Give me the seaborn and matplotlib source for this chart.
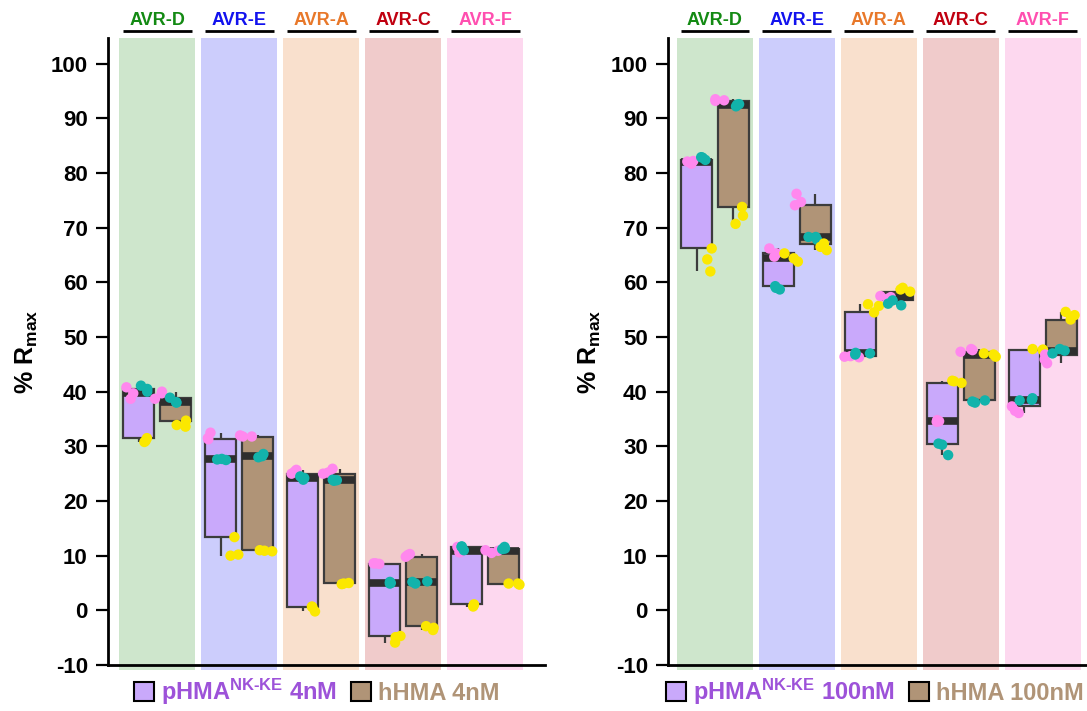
import numpy as np
import pandas as pd
import matplotlib
matplotlib.use('Agg')
import matplotlib.pyplot as plt
import matplotlib.transforms as mtransforms
from matplotlib.patches import Patch
import seaborn as sns

sns.set_theme(style='white')
plt.rcParams['font.family'] = ['Liberation Sans', 'DejaVu Sans']
plt.rcParams['font.weight'] = 'bold'
plt.rcParams['axes.labelweight'] = 'bold'
plt.rcParams['mathtext.fontset'] = 'custom'
plt.rcParams['mathtext.rm'] = 'Liberation Sans:bold'
plt.rcParams['mathtext.bf'] = 'Liberation Sans:bold'
plt.rcParams['mathtext.it'] = 'Liberation Sans:bold'

# categories
targets = ['AVR-D', 'AVR-E', 'AVR-A', 'AVR-C', 'AVR-F']
target_colors = ['#138a13', '#1212ee', '#e8782a', '#c00010', '#ff4fb0']
band_colors = ['#cee6cc', '#cccdfc', '#f9e0cd', '#f0cbcb', '#fdd8ef']
proteins = ['pHMA', 'hHMA']
box_colors = ['#c9a9fb', '#b09477']
reps = ['pink', 'teal', 'yellow']
rep_colors = ['#ff88ee', '#12b3ab', '#fbe800']

# 4 nM, three replicate readings per target and replicate colour
phma_4nm_pink = [[38.7, 39.7, 40.8], [31.5, 32.5, 31.3], [25.7, 25.4, 25.0], [8.6, 8.6, 8.5], [10.8, 11.6, 10.6]]
phma_4nm_teal = [[41.1, 40.0, 40.5], [27.5, 27.7, 27.6], [24.5, 23.9, 24.2], [5.0, 5.2, 4.9], [11.6, 11.7, 11.0]]
phma_4nm_yellow = [[31.0, 31.5, 30.8], [13.4, 10.2, 10.0], [0.7, 0.6, -0.2], [-4.9, -4.7, -5.9], [1.1, 0.7, 0.9]]
hhma_4nm_pink = [[39.7, 38.7, 40.0], [32.0, 31.8, 31.8], [25.9, 25.2, 25.0], [10.3, 9.8, 10.1], [10.5, 11.0, 10.9]]
hhma_4nm_teal = [[38.1, 38.9, 38.0], [28.6, 28.0, 28.2], [23.7, 23.8, 23.9], [5.2, 4.9, 5.3], [11.6, 11.2, 11.3]]
hhma_4nm_yellow = [[34.7, 33.9, 33.6], [10.8, 10.9, 11.0], [4.9, 5.0, 4.8], [-2.9, -3.2, -3.6], [4.9, 4.7, 4.9]]

# 100 nM
phma_100nm_pink = [[81.7, 82.1, 82.2], [65.3, 64.7, 66.2], [46.3, 46.5, 46.4], [34.5, 34.6, 34.8], [36.1, 36.5, 37.3]]
phma_100nm_teal = [[82.8, 82.9, 82.4], [58.7, 59.0, 59.3], [46.8, 47.1, 47.0], [30.3, 28.4, 30.5], [38.5, 38.8, 38.4]]
phma_100nm_yellow = [[66.2, 64.2, 62.0], [65.3, 63.8, 64.4], [54.5, 55.7, 56.0], [42.0, 41.9, 41.6], [47.8, 47.6, 47.7]]
hhma_100nm_pink = [[93.2, 93.5, 93.3], [76.2, 74.7, 74.1], [57.5, 57.0, 57.3], [47.3, 47.6, 47.8], [46.8, 45.9, 45.2]]
hhma_100nm_teal = [[92.2, 92.6, 92.5], [68.3, 67.8, 68.3], [56.7, 56.1, 55.8], [38.4, 38.0, 38.2], [47.8, 47.0, 47.5]]
hhma_100nm_yellow = [[72.2, 70.7, 73.8], [67.1, 66.5, 65.9], [59.0, 58.3, 58.7], [47.0, 46.8, 46.4], [53.2, 54.0, 54.6]]

yticks = list(range(-10, 101, 10))


def build_df(series):
    rows = []
    for protein, rep, vals in series:
        for t, triple in zip(targets, vals):
            for v in triple:
                rows.append({'target': t, 'protein': protein, 'rep': rep,
                             'group': f'{protein}-{rep}', 'value': v})
    return pd.DataFrame(rows)


df4 = build_df([('pHMA', 'pink', phma_4nm_pink), ('pHMA', 'teal', phma_4nm_teal),
                ('pHMA', 'yellow', phma_4nm_yellow), ('hHMA', 'pink', hhma_4nm_pink),
                ('hHMA', 'teal', hhma_4nm_teal), ('hHMA', 'yellow', hhma_4nm_yellow)])
df100 = build_df([('pHMA', 'pink', phma_100nm_pink), ('pHMA', 'teal', phma_100nm_teal),
                  ('pHMA', 'yellow', phma_100nm_yellow), ('hHMA', 'pink', hhma_100nm_pink),
                  ('hHMA', 'teal', hhma_100nm_teal), ('hHMA', 'yellow', hhma_100nm_yellow)])

groups = [f'{p}-{r}' for p in proteins for r in reps]
point_palette = dict(zip(groups, rep_colors * 2))

np.random.seed(3)
fig = plt.figure(figsize=(10.87, 7.11), dpi=100)
ax1 = fig.add_axes([108 / 1087, 46 / 711, 437 / 1087, 627 / 711])
ax2 = fig.add_axes([668 / 1087, 46 / 711, 419 / 1087, 627 / 711])


def draw_panel(ax, df, conc, xlim, legend_x):
    for i, c in enumerate(band_colors):
        span = ax.axvspan(i - 0.465, i + 0.465, ymin=-0.008, ymax=1, color=c, lw=0, zorder=0)
        span.set_clip_on(False)
    sns.boxplot(data=df, x='target', y='value', hue='protein', order=targets, hue_order=proteins,
                palette=box_colors, saturation=1, width=0.9, gap=0.16, whis=(0, 100),
                showcaps=False, showfliers=False, linewidth=1.6, linecolor='#3c3c3c',
                medianprops={'color': '#2e2e2e', 'linewidth': 5.5, 'solid_capstyle': 'butt'},
                legend=False, ax=ax)
    sns.stripplot(data=df, x='target', y='value', hue='group', order=targets, hue_order=groups,
                  palette=point_palette, dodge=True, jitter=0.6, size=7.5, linewidth=0,
                  legend=False, ax=ax, zorder=4)

    ax.set_xlim(*xlim)
    ax.set_ylim(-10, 104.7)
    ax.set_yticks(yticks)
    ax.set_yticklabels([str(t) for t in yticks])
    ax.set_xticks([])
    ax.set_xlabel('')
    ax.set_ylabel('% R$_{\\mathrm{max}}$', fontsize=18, fontweight='bold', color='black')
    ax.yaxis.set_label_coords(-0.155, 0.5)
    for side in ['top', 'right']:
        ax.spines[side].set_visible(False)
    for side in ['left', 'bottom']:
        ax.spines[side].set_color('black')
        ax.spines[side].set_linewidth(2)
    ax.tick_params(axis='y', length=8.5, width=1.6, color='black', labelsize=16,
                   labelcolor='black', pad=6, left=True)
    ax.set_facecolor('none')
    ax.grid(False)

    trans = mtransforms.blended_transform_factory(ax.transData, ax.transAxes)
    for i, (t, c) in enumerate(zip(targets, target_colors)):
        ax.text(i, 1.0207, t, transform=trans, ha='center', va='baseline', fontsize=13,
                fontweight='bold', color=c)
        ax.plot([i - 0.42, i + 0.42], [1.0107, 1.0107], transform=trans, color='black',
                lw=2, clip_on=False, solid_capstyle='butt')

    handles = [Patch(facecolor=box_colors[0], edgecolor='black', linewidth=1.5),
               Patch(facecolor=box_colors[1], edgecolor='black', linewidth=1.5)]
    labels = [f'pHMA$^{{\\text{{NK-KE}}}}$ {conc}', f'hHMA {conc}']
    leg = ax.legend(handles, labels, loc='center', bbox_to_anchor=(legend_x, -0.043), ncol=2,
                    frameon=False, fontsize=17, handlelength=0.85, handleheight=0.85,
                    handletextpad=0.3, columnspacing=0.6, borderaxespad=0)
    for txt, col in zip(leg.get_texts(), ['#9d52d9', '#b09477']):
        txt.set_color(col)
        txt.set_fontweight('bold')


draw_panel(ax1, df4, '4nM', (-0.6, 4.73), 0.478)
draw_panel(ax2, df100, '100nM', (-0.573, 4.54), 0.494)

fig.savefig('out.png', dpi=100)
